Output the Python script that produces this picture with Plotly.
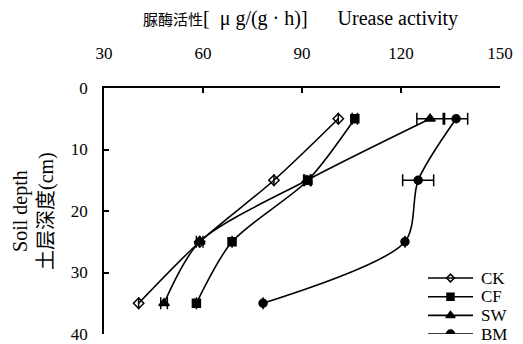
import plotly.graph_objects as go

# Soil depth (cm) of each sampling layer
depth = [5, 15, 25, 35]

# Urease activity, µg/(g·h), per treatment
ck = [101.0, 81.5, 59.0, 40.5]
cf = [106.0, 91.8, 68.8, 58.0]
sw = [128.8, 91.5, 59.0, 48.2]
bm = [136.7, 125.2, 121.2, 78.2]

# Standard errors
ck_err = [0, 0, 0, 0]
cf_err = [0.8, 1.0, 0, 0]
sw_err = [4.0, 1.0, 1.0, 1.0]
bm_err = [3.5, 4.7, 0, 0]

names = ["CK", "CF", "SW", "BM"]
values = [ck, cf, sw, bm]
errors = [ck_err, cf_err, sw_err, bm_err]
symbols = ["diamond-open", "square", "triangle-up", "circle"]
sizes = [8, 8, 9, 8]
key_sizes = [6, 7, 8, 8]

SERIF = "Liberation Serif, Times New Roman, Noto Sans CJK SC, serif"

# Figure geometry (pixels)
W, H = 523, 344
ML, MR, MT, MB = 104, 23, 88, 10
PLOT_H = H - MT - MB

# Legend rows: first row centre and row pitch, in pixels from the top
KEY_TOP, KEY_STEP = 278, 18.7
key_dom = [0.0, 0.27]
dom_top_px = H - MB - key_dom[1] * PLOT_H
dom_bot_px = H - MB - key_dom[0] * PLOT_H
key_range = [(dom_bot_px - KEY_TOP) / KEY_STEP, (dom_top_px - KEY_TOP) / KEY_STEP]

fig = go.Figure()
for name, vals, err, sym, sz in zip(names, values, errors, symbols, sizes):
    fig.add_trace(go.Scatter(
        x=vals, y=depth, name=name, mode="lines+markers",
        line=dict(color="black", width=1.6, shape="spline", smoothing=0.8),
        marker=dict(symbol=sym, size=sz, color="black",
                    line=dict(color="black", width=1.5)),
        error_x=dict(type="data", array=err, visible=True,
                     color="black", thickness=1.5, width=6),
        showlegend=False,
    ))

# Compact legend drawn on its own small axes in the lower right corner
for i, (name, sym, ks) in enumerate(zip(names, symbols, key_sizes)):
    fig.add_trace(go.Scatter(
        x=[0, 0.5, 1], y=[i, i, i], mode="lines", xaxis="x2", yaxis="y2",
        line=dict(color="black", width=1.6), showlegend=False, hoverinfo="skip",
    ))
    fig.add_trace(go.Scatter(
        x=[0.5], y=[i], mode="markers", xaxis="x2", yaxis="y2",
        marker=dict(symbol=sym, size=ks, color="black",
                    line=dict(color="black", width=1.5)),
        showlegend=False, hoverinfo="skip",
    ))
    row_px = KEY_TOP + i * KEY_STEP
    fig.add_annotation(
        text=name, xref="paper", yref="paper",
        x=0.947, y=(H - MB - row_px) / PLOT_H,
        xanchor="left", yanchor="middle", showarrow=False,
        font=dict(size=17, family=SERIF), height=17, valign="middle",
    )

fig.update_layout(
    width=W, height=H,
    margin=dict(l=ML, r=MR, t=MT, b=MB),
    paper_bgcolor="white", plot_bgcolor="white",
    font=dict(family=SERIF, size=17, color="black"),
    showlegend=False,
    xaxis=dict(
        side="top", range=[30, 150], tickvals=[30, 60, 90, 120, 150],
        showline=True, linecolor="black", linewidth=1.5,
        ticks="inside", ticklen=5, tickwidth=1.5, tickcolor="black",
        showgrid=False, zeroline=False, mirror=False, automargin=False,
        ticklabelstandoff=20, ticklabeloverflow="allow",
        tickfont=dict(size=17),
    ),
    yaxis=dict(
        range=[40, 0], tickvals=[0, 10, 20, 30, 40],
        showline=True, linecolor="black", linewidth=1.5,
        ticks="inside", ticklen=5, tickwidth=1.5, tickcolor="black",
        showgrid=False, zeroline=False, mirror=False, automargin=False,
        ticklabelstandoff=11, ticklabeloverflow="allow",
        tickfont=dict(size=17),
    ),
    xaxis2=dict(domain=[0.818, 0.932], range=[0, 1], anchor="y2",
                visible=False, fixedrange=True, automargin=False),
    yaxis2=dict(domain=key_dom, range=key_range, anchor="x2",
                visible=False, fixedrange=True, automargin=False),
)

fig.add_annotation(
    text="<span style='font-size:15px'>脲酶活性</span>[  μ g/(g · h)]"
         "      Urease activity",
    xref="paper", yref="paper", x=0.495, y=1.0, yshift=70,
    showarrow=False, font=dict(size=20, family=SERIF),
    xanchor="center", yanchor="middle",
)
fig.add_annotation(
    text="Soil depth<br>土层深度(cm)",
    xref="paper", yref="paper", x=0, xshift=-71, y=0.5,
    textangle=-90, showarrow=False, font=dict(size=20, family=SERIF),
    xanchor="center", yanchor="middle",
)

fig.write_html("out.html")
